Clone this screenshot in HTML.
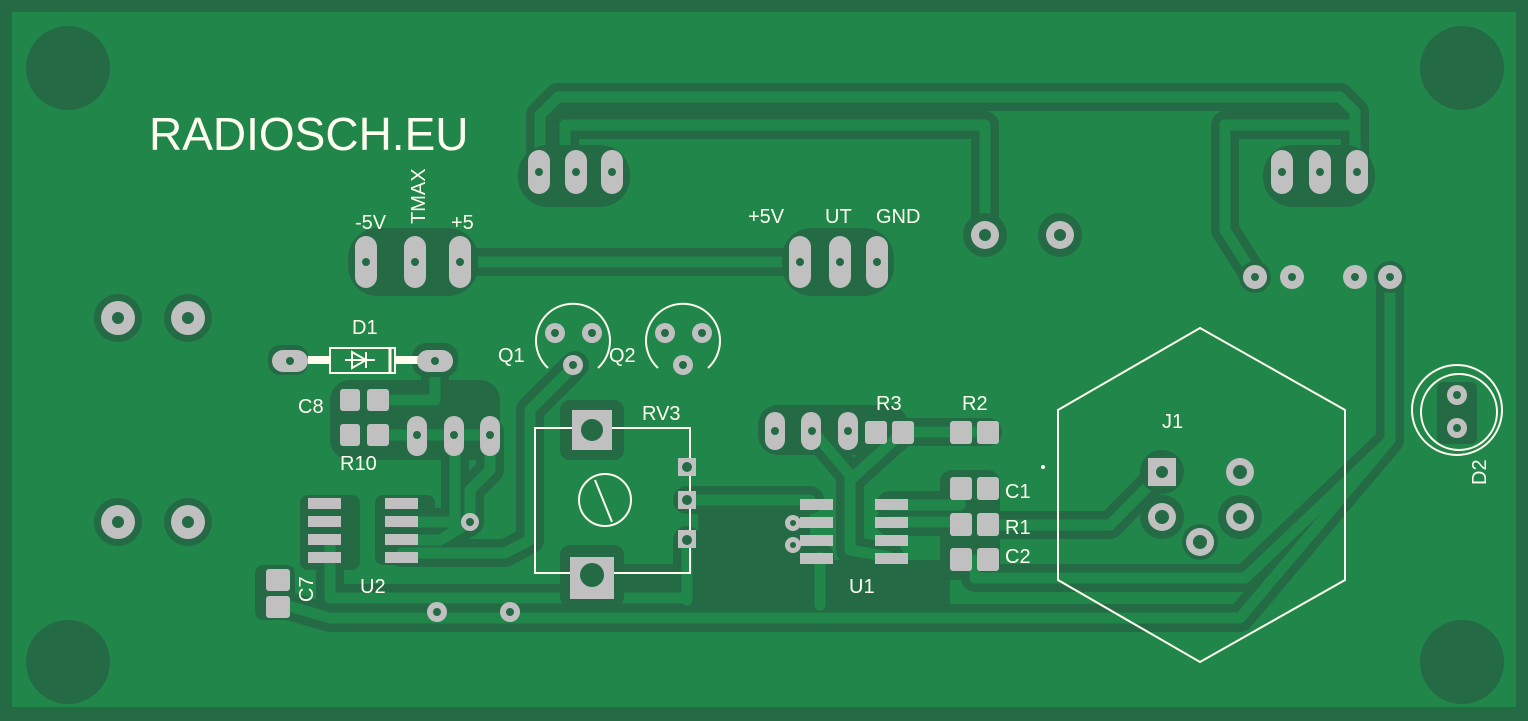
<!DOCTYPE html>
<html><head><meta charset="utf-8"><style>
html,body{margin:0;padding:0;background:#246b45}
svg{display:block}
text{font-family:"Liberation Sans",sans-serif;fill:#fffff0}
</style></head><body>
<svg width="1528" height="721" viewBox="0 0 1528 721" xmlns="http://www.w3.org/2000/svg">
<rect x="0" y="0" width="1528" height="721" fill="#246b45"/>
<rect x="12" y="12" width="1504" height="695" fill="#21864a"/>
<g fill="#246b45">
<circle cx="68" cy="68" r="42"/><circle cx="1462" cy="68" r="42"/>
<circle cx="68" cy="662" r="42"/><circle cx="1462" cy="662" r="42"/>
<rect x="698" y="490" width="112" height="115"/>
<rect x="820" y="560" width="130" height="45"/>
<rect x="940" y="470" width="60" height="110" rx="12"/>
<rect x="758" y="405" width="150" height="50" rx="20"/>
<rect x="330" y="380" width="170" height="80" rx="20"/>
<rect x="255" y="565" width="40" height="55" rx="8"/>
<rect x="300" y="495" width="60" height="75" rx="8"/>
<rect x="375" y="495" width="60" height="70" rx="8"/>
</g>
<g fill="none" stroke="#246b45" stroke-width="28" stroke-linejoin="round" stroke-linecap="round">
<path d="M540 175 V115 L558 97 H1340 L1355 112 V175"/>
<path d="M565 175 V125 H985 V235"/>
<path d="M1355 125 H1225 V230 L1255 277"/>
<path d="M366 262 H800"/>
<path d="M1390 277 V440 L1245 578 H975 V560"/>
<path d="M1390 440 L1240 618 H330 L285 605"/>
<path d="M330 545 V598 H687"/>
<path d="M575 365 L530 410 V540 L505 553 H402"/>
<path d="M490 432 V470 L470 490 V522 L440 540 H402"/>
<path d="M455 432 V522 L440 522 H402"/>
<path d="M435 360 V400 H377"/>
<path d="M377 435 H490"/>
<path d="M687 500 H810"/>
<path d="M812 430 L850 475 V550 L890 557"/>
<path d="M903 432 L850 480"/>
<path d="M903 432 H988"/>
<path d="M890 505 H960 V488"/>
<path d="M890 522 H960"/>
<path d="M988 525 H1110 L1162 472"/>
<path d="M820 557 V605"/>
<path d="M687 540 V600"/>
<path d="M592 578 H687"/>
</g>
<g fill="none" stroke="#21864a" stroke-width="11" stroke-linejoin="round" stroke-linecap="round">
<path d="M540 175 V115 L558 97 H1340 L1355 112 V175"/>
<path d="M565 175 V125 H985 V235"/>
<path d="M1355 125 H1225 V230 L1255 277"/>
<path d="M366 262 H800"/>
<path d="M1390 277 V440 L1245 578 H975 V560"/>
<path d="M1390 440 L1240 618 H330 L285 605"/>
<path d="M330 545 V598 H687"/>
<path d="M575 365 L530 410 V540 L505 553 H402"/>
<path d="M490 432 V470 L470 490 V522 L440 540 H402"/>
<path d="M455 432 V522 L440 522 H402"/>
<path d="M435 360 V400 H377"/>
<path d="M377 435 H490"/>
<path d="M687 500 H810"/>
<path d="M812 430 L850 475 V550 L890 557"/>
<path d="M903 432 L850 480"/>
<path d="M903 432 H988"/>
<path d="M890 505 H960 V488"/>
<path d="M890 522 H960"/>
<path d="M988 525 H1110 L1162 472"/>
<path d="M820 557 V605"/>
<path d="M687 540 V600"/>
</g>
<g fill="#246b45">
<rect x="518" y="145" width="112" height="62" rx="30"/>
<rect x="1263" y="145" width="112" height="62" rx="30"/>
<rect x="348" y="228" width="130" height="68" rx="30"/>
<rect x="782" y="228" width="112" height="68" rx="30"/>
<circle cx="985" cy="235" r="22"/><circle cx="1060" cy="235" r="22"/>
<circle cx="1255" cy="277" r="16"/><circle cx="1390" cy="277" r="16"/>
<circle cx="118" cy="318" r="24"/><circle cx="188" cy="318" r="24"/>
<circle cx="118" cy="522" r="24"/><circle cx="188" cy="522" r="24"/>
<rect x="268" y="345" width="40" height="30" rx="12"/>
<rect x="412" y="343" width="46" height="34" rx="14"/>
<rect x="560" y="400" width="64" height="60" rx="10"/>
<rect x="560" y="545" width="64" height="62" rx="10"/>
<circle cx="1162" cy="472" r="22"/><circle cx="1162" cy="517" r="22"/><circle cx="1240" cy="517" r="22"/><circle cx="1200" cy="542" r="18"/>
<rect x="1437" y="382" width="40" height="62" rx="6"/>
</g>
<g fill="none" stroke="#fffff0" stroke-width="2">
<rect x="330" y="348" width="65" height="25"/>
<line x1="308" y1="360" x2="330" y2="360" stroke-width="8"/>
<line x1="395" y1="360" x2="420" y2="360" stroke-width="8"/>
<line x1="390" y1="348" x2="390" y2="373" stroke-width="3"/>
<path d="M345 360 H375 M352 352 L366 360 L352 368 Z M366 352 V368"/>
<path d="M548 368 A37 37 0 1 1 598 368"/>
<path d="M658 368 A37 37 0 1 1 708 368"/>
<rect x="535" y="428" width="155" height="145"/>
<circle cx="605" cy="500" r="26"/>
<line x1="595" y1="480" x2="612" y2="522"/>
<path d="M1200 328 L1345 410 V580 L1200 662 L1058 580 V410 Z"/>
<circle cx="1457" cy="410" r="45"/>
<circle cx="1459" cy="412" r="38"/>
</g>
<circle cx="1043" cy="467" r="2" fill="#fffff0"/>
<g fill="#c0c0c0">
<rect x="528" y="150" width="22" height="44" rx="11"/><rect x="565" y="150" width="22" height="44" rx="11"/><rect x="601" y="150" width="22" height="44" rx="11"/>
<rect x="1271" y="150" width="22" height="44" rx="11"/><rect x="1309" y="150" width="22" height="44" rx="11"/><rect x="1346" y="150" width="22" height="44" rx="11"/>
<rect x="355" y="236" width="22" height="52" rx="11"/><rect x="404" y="236" width="22" height="52" rx="11"/><rect x="449" y="236" width="22" height="52" rx="11"/>
<rect x="789" y="236" width="22" height="52" rx="11"/><rect x="829" y="236" width="22" height="52" rx="11"/><rect x="866" y="236" width="22" height="52" rx="11"/>
<circle cx="985" cy="235" r="14"/><circle cx="1060" cy="235" r="14"/>
<circle cx="1255" cy="277" r="12"/><circle cx="1292" cy="277" r="12"/><circle cx="1355" cy="277" r="12"/><circle cx="1390" cy="277" r="12"/>
<circle cx="118" cy="318" r="17"/><circle cx="188" cy="318" r="17"/><circle cx="118" cy="522" r="17"/><circle cx="188" cy="522" r="17"/>
<rect x="272" y="350" width="36" height="22" rx="11"/><rect x="417" y="350" width="36" height="22" rx="11"/>
<circle cx="555" cy="333" r="10"/><circle cx="592" cy="333" r="10"/><circle cx="573" cy="365" r="10"/>
<circle cx="665" cy="333" r="10"/><circle cx="702" cy="333" r="10"/><circle cx="683" cy="365" r="10"/>
<rect x="340" y="389" width="20" height="22" rx="3"/><rect x="367" y="389" width="22" height="22" rx="3"/>
<rect x="340" y="424" width="20" height="22" rx="3"/><rect x="367" y="424" width="22" height="22" rx="3"/>
<rect x="407" y="416" width="20" height="40" rx="10"/><rect x="444" y="416" width="20" height="40" rx="10"/><rect x="480" y="416" width="20" height="40" rx="10"/>
<rect x="572" y="410" width="40" height="40"/><rect x="570" y="557" width="44" height="42"/>
<rect x="678" y="458" width="18" height="18"/><rect x="678" y="491" width="18" height="18"/><rect x="678" y="530" width="18" height="18"/>
<rect x="765" y="412" width="20" height="38" rx="10"/><rect x="801" y="412" width="20" height="38" rx="10"/><rect x="838" y="412" width="20" height="38" rx="10"/>
<rect x="865" y="421" width="22" height="23" rx="3"/><rect x="892" y="421" width="22" height="23" rx="3"/>
<rect x="950" y="421" width="22" height="23" rx="3"/><rect x="977" y="421" width="22" height="23" rx="3"/>
<rect x="950" y="477" width="22" height="23" rx="3"/><rect x="977" y="477" width="22" height="23" rx="3"/>
<rect x="950" y="513" width="22" height="23" rx="3"/><rect x="977" y="513" width="22" height="23" rx="3"/>
<rect x="950" y="548" width="22" height="23" rx="3"/><rect x="977" y="548" width="22" height="23" rx="3"/>
<rect x="308" y="498" width="33" height="11"/><rect x="308" y="516" width="33" height="11"/><rect x="308" y="534" width="33" height="11"/><rect x="308" y="552" width="33" height="11"/>
<rect x="385" y="498" width="33" height="11"/><rect x="385" y="516" width="33" height="11"/><rect x="385" y="534" width="33" height="11"/><rect x="385" y="552" width="33" height="11"/>
<rect x="800" y="499" width="33" height="11"/><rect x="800" y="517" width="33" height="11"/><rect x="800" y="535" width="33" height="11"/><rect x="800" y="553" width="33" height="11"/>
<rect x="875" y="499" width="33" height="11"/><rect x="875" y="517" width="33" height="11"/><rect x="875" y="535" width="33" height="11"/><rect x="875" y="553" width="33" height="11"/>
<rect x="266" y="569" width="24" height="22" rx="3"/><rect x="266" y="596" width="24" height="22" rx="3"/>
<circle cx="470" cy="522" r="9"/><circle cx="437" cy="612" r="10"/><circle cx="510" cy="612" r="10"/>
<circle cx="793" cy="523" r="8"/><circle cx="793" cy="545" r="8"/>
<rect x="1148" y="458" width="28" height="28"/>
<circle cx="1240" cy="472" r="14"/><circle cx="1162" cy="517" r="14"/><circle cx="1240" cy="517" r="14"/><circle cx="1200" cy="542" r="14"/>
<circle cx="1457" cy="395" r="10"/><circle cx="1457" cy="428" r="10"/>
</g>
<g fill="#246b45">
<circle cx="539" cy="172" r="4"/><circle cx="576" cy="172" r="4"/><circle cx="612" cy="172" r="4"/>
<circle cx="1282" cy="172" r="4"/><circle cx="1320" cy="172" r="4"/><circle cx="1357" cy="172" r="4"/>
<circle cx="366" cy="262" r="4"/><circle cx="415" cy="262" r="4"/><circle cx="460" cy="262" r="4"/>
<circle cx="800" cy="262" r="4"/><circle cx="840" cy="262" r="4"/><circle cx="877" cy="262" r="4"/>
<circle cx="985" cy="235" r="6"/><circle cx="1060" cy="235" r="6"/>
<circle cx="1255" cy="277" r="4"/><circle cx="1292" cy="277" r="4"/><circle cx="1355" cy="277" r="4"/><circle cx="1390" cy="277" r="4"/>
<circle cx="118" cy="318" r="6"/><circle cx="188" cy="318" r="6"/><circle cx="118" cy="522" r="6"/><circle cx="188" cy="522" r="6"/>
<circle cx="290" cy="361" r="4"/><circle cx="435" cy="361" r="4"/>
<circle cx="555" cy="333" r="4"/><circle cx="592" cy="333" r="4"/><circle cx="573" cy="365" r="4"/>
<circle cx="665" cy="333" r="4"/><circle cx="702" cy="333" r="4"/><circle cx="683" cy="365" r="4"/>
<circle cx="417" cy="435" r="4"/><circle cx="454" cy="435" r="4"/><circle cx="490" cy="435" r="4"/>
<circle cx="592" cy="430" r="11"/><circle cx="592" cy="575" r="12"/>
<circle cx="687" cy="467" r="5"/><circle cx="687" cy="500" r="5"/><circle cx="687" cy="540" r="5"/>
<circle cx="775" cy="431" r="4"/><circle cx="812" cy="431" r="4"/><circle cx="848" cy="431" r="4"/>
<circle cx="470" cy="522" r="4"/><circle cx="437" cy="612" r="4"/><circle cx="510" cy="612" r="4"/>
<circle cx="793" cy="523" r="3"/><circle cx="793" cy="545" r="3"/>
<circle cx="1162" cy="472" r="6"/><circle cx="1240" cy="472" r="7"/><circle cx="1162" cy="517" r="7"/><circle cx="1240" cy="517" r="7"/><circle cx="1200" cy="542" r="7"/>
<circle cx="1457" cy="395" r="4"/><circle cx="1457" cy="428" r="4"/>
</g>
<text x="149" y="150" font-size="46">RADIOSCH.EU</text>
<g font-size="20">
<text x="355" y="229">-5V</text>
<text x="0" y="0" transform="translate(425,224) rotate(-90)">TMAX</text>
<text x="451" y="229">+5</text>
<text x="748" y="223">+5V</text>
<text x="825" y="223">UT</text>
<text x="876" y="223">GND</text>
<text x="352" y="334">D1</text>
<text x="498" y="362">Q1</text>
<text x="609" y="362">Q2</text>
<text x="298" y="413">C8</text>
<text x="642" y="420">RV3</text>
<text x="340" y="470">R10</text>
<text x="876" y="410">R3</text>
<text x="962" y="410">R2</text>
<text x="1162" y="428">J1</text>
<text x="1005" y="498">C1</text>
<text x="1005" y="534">R1</text>
<text x="1005" y="563">C2</text>
<text x="849" y="593">U1</text>
<text x="360" y="593">U2</text>
<text x="0" y="0" transform="translate(313,602) rotate(-90)">C7</text>
<text x="0" y="0" transform="translate(1486,485) rotate(-90)">D2</text>
</g>
</svg>
</body></html>
